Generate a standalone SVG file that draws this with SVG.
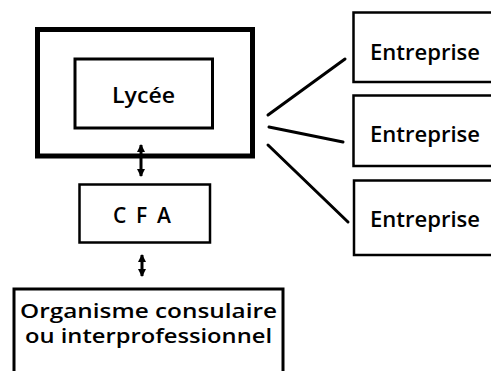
<svg xmlns="http://www.w3.org/2000/svg" width="491" height="371" viewBox="0 0 491 371">
<style>
.box{fill:#fff;stroke:#000;stroke-linejoin:miter}
.t{font-family:"Open Sans","Noto Sans","DejaVu Sans",sans-serif;font-size:21px;font-weight:600;fill:#000;text-anchor:middle}
.s{font-size:19px}
.ln{stroke:#000;stroke-width:3;fill:none;stroke-linecap:round}
.ar{stroke:#000;stroke-width:3;fill:none}
</style>
<defs>
<marker id="ah" viewBox="0 0 8 8" refX="7" refY="4" markerWidth="8" markerHeight="8" markerUnits="userSpaceOnUse" orient="auto-start-reverse">
<path d="M0,0 L8,4 L0,8 z" fill="#000"/>
</marker>
</defs>
<rect width="491" height="371" fill="#fff"/>
<g id="ecole">
<rect class="box" x="37.5" y="29.5" width="215" height="126.5" stroke-width="5"/>
</g>
<g id="lycee">
<rect class="box" x="75" y="59" width="137.5" height="69" stroke-width="3"/>
<text class="t" x="143.5" y="103" textLength="63" lengthAdjust="spacingAndGlyphs">Lycée</text>
</g>
<g id="cfa">
<rect class="box" x="79.5" y="184.5" width="130.5" height="58" stroke-width="2.5"/>
<text class="t" x="145.5" y="223" letter-spacing="7" textLength="65" lengthAdjust="spacing">C F A</text>
</g>
<g id="organisme">
<rect class="box" x="14" y="289" width="269" height="90" stroke-width="3"/>
<text class="t s" x="148.5" y="318" textLength="257" lengthAdjust="spacingAndGlyphs">Organisme consulaire</text>
<text class="t s" x="148.5" y="343" textLength="247" lengthAdjust="spacingAndGlyphs">ou interprofessionnel</text>
</g>
<g id="entreprise1">
<rect class="box" x="353.5" y="12.5" width="145" height="69.5" stroke-width="2.5"/>
<text class="t" x="425" y="60" textLength="110" lengthAdjust="spacingAndGlyphs">Entreprise</text>
</g>
<g id="entreprise2">
<rect class="box" x="353.5" y="95.5" width="145" height="70.5" stroke-width="2.5"/>
<text class="t" x="425" y="142" textLength="110" lengthAdjust="spacingAndGlyphs">Entreprise</text>
</g>
<g id="entreprise3">
<rect class="box" x="354" y="180.5" width="145" height="74.5" stroke-width="2.5"/>
<text class="t" x="425" y="227" textLength="110" lengthAdjust="spacingAndGlyphs">Entreprise</text>
</g>
<g id="connectors">
<line class="ar" x1="141" y1="145" x2="141" y2="176" marker-start="url(#ah)" marker-end="url(#ah)"/>
<line class="ar" x1="142" y1="255" x2="142" y2="276" marker-start="url(#ah)" marker-end="url(#ah)"/>
<line class="ln" x1="268" y1="115" x2="345" y2="59"/>
<line class="ln" x1="269" y1="127" x2="343" y2="142"/>
<line class="ln" x1="268" y1="145" x2="348" y2="222"/>
</g>
</svg>
